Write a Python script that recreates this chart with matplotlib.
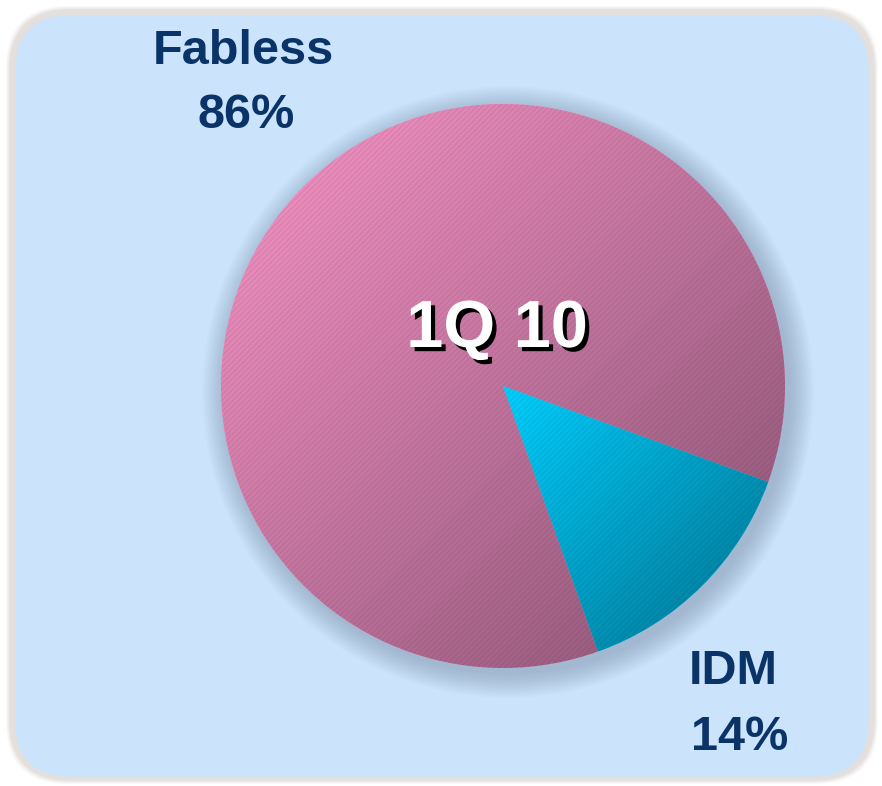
import numpy as np
import matplotlib.pyplot as plt
import matplotlib.patheffects as pe
from matplotlib.patches import FancyBboxPatch, Circle, Wedge
from matplotlib.colors import LinearSegmentedColormap

labels = ['Fabless', 'IDM']
shares = [86, 14]
title = '1Q 10'
light_cols = ['#FB96C8', '#00D0FF']
dark_cols = ['#875272', '#00728F']

plt.rcParams['font.family'] = ['Liberation Sans', 'DejaVu Sans']

fig = plt.figure(figsize=(8.82, 7.86), dpi=100)
ax = fig.add_axes([0, 0, 1, 1])
ax.set_xlim(0, 882)
ax.set_ylim(0, 786)
ax.axis('off')

# fond : cadre arrondi bleu clair avec ombre légère
for i, a in enumerate([0.04, 0.05, 0.06, 0.08]):
    ax.add_patch(FancyBboxPatch((6 + i, 2 + i), 872 - 2 * i, 778 - 2 * i,
                                boxstyle='round,pad=0,rounding_size=62',
                                fc=(0.55, 0.45, 0.4, a), ec='none'))
ax.add_patch(FancyBboxPatch((14, 8), 856, 764, boxstyle='round,pad=0,rounding_size=58',
                            fc='#CCE4FB', ec='#E0E0E0', lw=2))

cx, cy, r = 503, 400, 282

# ombre floue du camembert
for k in range(16):
    ax.add_patch(Circle((cx + 5, cy - 6), r + 24 - k * 1.6, fc=(0.35, 0.42, 0.52, 0.025), ec='none'))

wedges, _ = ax.pie(shares, center=(cx, cy), radius=r, startangle=-19.9, counterclock=True,
                   colors=light_cols, wedgeprops=dict(lw=0))
ax.set_aspect('auto')

# dégradé diagonal par part (clair en haut à gauche, sombre en bas à droite)
yy, xx = np.mgrid[0:1:300j, 0:1:300j]
grad = (xx + (1 - yy)) / 2
for w, c0, c1 in zip(wedges, light_cols, dark_cols):
    cmap = LinearSegmentedColormap.from_list('g', [c0, c1])
    bb = w.get_path().get_extents(w.get_patch_transform())
    im = ax.imshow(grad, cmap=cmap, extent=(bb.x0, bb.x1, bb.y0, bb.y1),
                   origin='lower', interpolation='bilinear', zorder=2)
    im.set_clip_path(w)
    ax.add_patch(Wedge((cx, cy), r, w.theta1, w.theta2, fc='none',
                       ec=(0.2, 0.1, 0.2, 0.08), lw=0, hatch='//////', zorder=3))
ax.set_aspect('auto')
ax.set_xlim(0, 882)
ax.set_ylim(0, 786)

navy = '#0A3467'
ax.text(243, 786 - 52, labels[0], ha='center', va='center', fontsize=35,
        fontweight='bold', color=navy)
ax.text(246, 786 - 116, f'{shares[0]}%', ha='center', va='center', fontsize=35,
        fontweight='bold', color=navy)
ax.text(733, 786 - 672, labels[1], ha='center', va='center', fontsize=35,
        fontweight='bold', color=navy)
ax.text(740, 786 - 738, f'{shares[1]}%', ha='center', va='center', fontsize=35,
        fontweight='bold', color=navy)
ax.text(497, 786 - 330, title, ha='center', va='center', fontsize=48,
        fontweight='bold', color='white', zorder=5,
        path_effects=[pe.withSimplePatchShadow(offset=(3, -3), shadow_rgbFace='black', alpha=1)])

fig.savefig('out.png', dpi=100)
